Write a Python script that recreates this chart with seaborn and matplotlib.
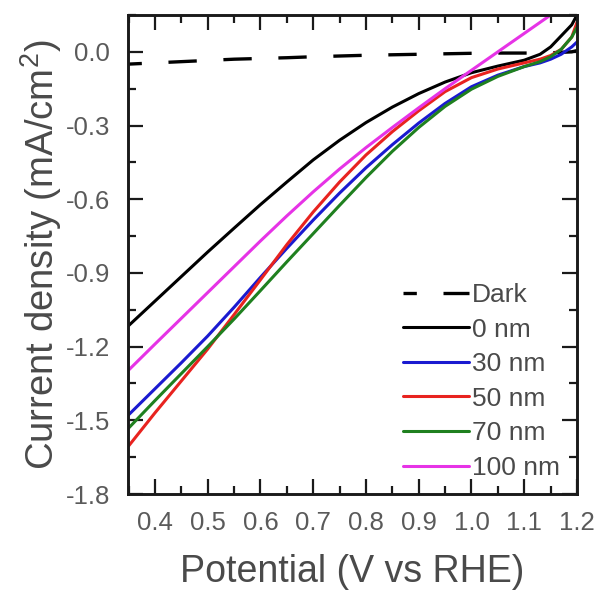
import numpy as np
import pandas as pd
import matplotlib
matplotlib.use("Agg")
import matplotlib.pyplot as plt
import seaborn as sns
from matplotlib.ticker import MultipleLocator

# ---- data ----
potential = [0.35, 0.40, 0.45, 0.50, 0.55, 0.60, 0.65, 0.70, 0.75, 0.80, 0.85,
             0.90, 0.95, 1.00, 1.05, 1.10, 1.13, 1.15, 1.17, 1.19, 1.20]
labels = ["Dark", "0 nm", "30 nm", "50 nm", "70 nm", "100 nm"]
j_dark = [-0.050, -0.045, -0.040, -0.035, -0.030, -0.027, -0.024, -0.020, -0.017, -0.014, -0.012,
          -0.010, -0.008, -0.006, -0.005, -0.005, -0.005, -0.004, -0.002, 0.000, 0.005]
j_0nm = [-1.115, -1.015, -0.915, -0.815, -0.718, -0.622, -0.530, -0.440, -0.360, -0.288, -0.225,
         -0.170, -0.123, -0.085, -0.058, -0.034, -0.010, 0.020, 0.065, 0.110, 0.150]
j_30nm = [-1.478, -1.372, -1.266, -1.157, -1.040, -0.918, -0.800, -0.685, -0.575, -0.472, -0.378,
          -0.290, -0.210, -0.142, -0.095, -0.060, -0.045, -0.030, -0.010, 0.020, 0.040]
j_50nm = [-1.605, -1.470, -1.340, -1.210, -1.070, -0.928, -0.785, -0.652, -0.530, -0.420, -0.325,
          -0.240, -0.162, -0.105, -0.070, -0.045, -0.030, -0.015, 0.010, 0.060, 0.120]
j_70nm = [-1.532, -1.420, -1.310, -1.200, -1.088, -0.972, -0.855, -0.740, -0.625, -0.512, -0.405,
          -0.308, -0.222, -0.152, -0.100, -0.060, -0.040, -0.020, 0.010, 0.060, 0.100]
j_100nm = [-1.296, -1.190, -1.085, -0.980, -0.875, -0.770, -0.668, -0.570, -0.477, -0.390, -0.308,
           -0.228, -0.150, -0.075, 0.000, 0.075, 0.120, 0.150]

xticks = [0.4, 0.5, 0.6, 0.7, 0.8, 0.9, 1.0, 1.1, 1.2]
yticks = [0.0, -0.3, -0.6, -0.9, -1.2, -1.5, -1.8]

series = [j_dark, j_0nm, j_30nm, j_50nm, j_70nm, j_100nm]
colors = ["#000000", "#000000", "#1a1ad0", "#e8231f", "#1f801f", "#e633e6"]

rows = []
for lab, vals in zip(labels, series):
    for p, v in zip(potential[:len(vals)], vals):
        rows.append({"Potential": p, "J": v, "Sample": lab})
df = pd.DataFrame(rows)

sns.set_theme(style="ticks")
plt.rcParams["font.family"] = ["Liberation Sans", "DejaVu Sans"]
plt.rcParams["mathtext.default"] = "regular"

fig = plt.figure(figsize=(6.0, 5.92), dpi=100)
ax = fig.add_axes([0.2133, 0.1655, 0.7484, 0.8092])

for lab, col in zip(labels, colors):
    sub = df[df["Sample"] == lab]
    if lab == "Dark":
        sns.lineplot(data=sub, x="Potential", y="J", ax=ax, color=col, lw=2.4,
                     linestyle=(4.5, (8.5, 8.0)), label=lab, sort=True)
    else:
        sns.lineplot(data=sub, x="Potential", y="J", ax=ax, color=col, lw=2.2,
                     label=lab, sort=True)

ax.set_xlim(0.349, 1.2)
ax.set_ylim(-1.8, 0.15)
ax.set_xticks(xticks)
ax.set_yticks(yticks)
ax.set_xticklabels([f"{t:.1f}" for t in xticks])
ax.set_yticklabels([f"{t:.1f}" for t in yticks])
ax.xaxis.set_minor_locator(MultipleLocator(0.05))
ax.yaxis.set_minor_locator(MultipleLocator(0.15))

ax.tick_params(which="both", direction="in", top=True, right=True,
               color="#1a1a1a", labelcolor="#5a5a5a", labelsize=18.5)
ax.tick_params(which="major", length=11, width=1.6)
ax.tick_params(which="minor", length=6, width=1.6)
ax.tick_params(axis="x", which="major", pad=12)
ax.tick_params(axis="y", which="major", pad=13)
for s in ax.spines.values():
    s.set_linewidth(2.1)
    s.set_color("#1a1a1a")

ax.set_xlabel("Potential (V vs RHE)", fontsize=27, color="#4a4a4a", labelpad=14)
ax.set_ylabel("Current density (mA/cm$^2$)", fontsize=27.5, color="#4a4a4a", labelpad=1)

leg = ax.legend(loc="upper left", bbox_to_anchor=(0.672, 0.522),
                bbox_transform=fig.transFigure, frameon=False, fontsize=19,
                handlelength=2.5, handletextpad=0.1, labelspacing=0.40,
                borderpad=0, borderaxespad=0)
for t in leg.get_texts():
    t.set_color("#4a4a4a")

fig.savefig("out.png", dpi=100)
